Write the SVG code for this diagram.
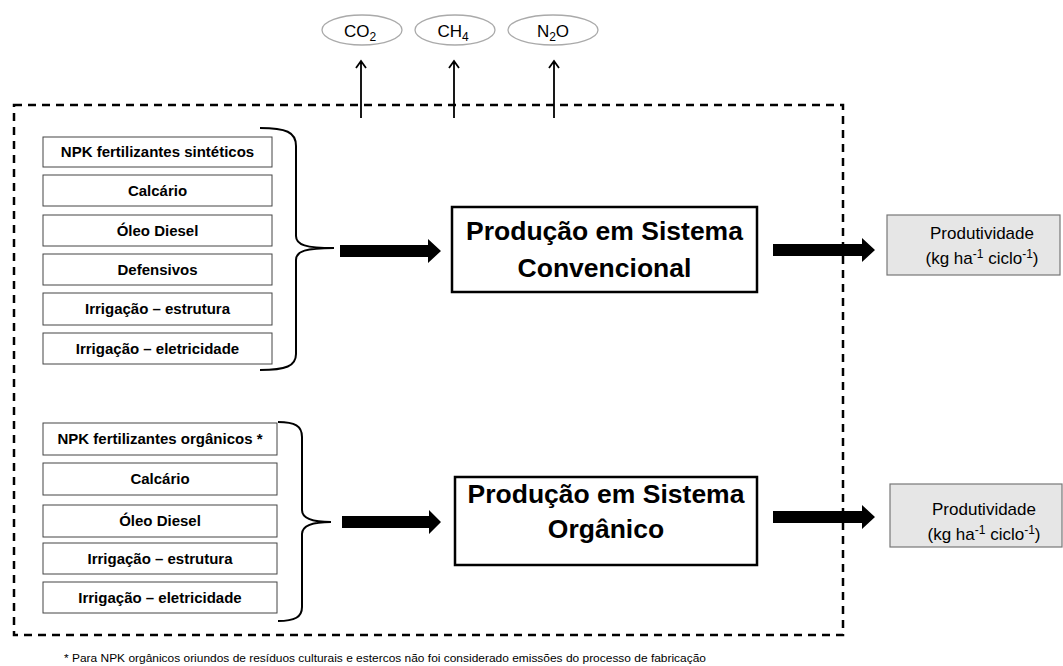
<svg xmlns="http://www.w3.org/2000/svg" width="1063" height="666" viewBox="0 0 1063 666">
<defs>
<style>
.inp rect{fill:#fff;stroke:#444;stroke-width:1}
.inp text{font-family:"Liberation Sans",Arial,sans-serif;font-weight:bold;font-size:15px;text-anchor:middle;fill:#000}
.gas ellipse{fill:#fff;stroke:#aaa;stroke-width:1.3}
.gas text{font-family:"Liberation Sans",Arial,sans-serif;font-size:17px;text-anchor:middle;fill:#000}
.prod rect{fill:#fff;stroke:#000;stroke-width:2.5}
.prod text{font-family:"Liberation Sans",Arial,sans-serif;font-weight:bold;font-size:26.5px;text-anchor:middle;fill:#000}
.out rect{fill:#e6e6e6;stroke:#777;stroke-width:1.2}
.out text{font-family:"Liberation Sans",Arial,sans-serif;font-size:17px;text-anchor:middle;fill:#000}
.brace{fill:none;stroke:#000;stroke-width:2}
.thick{fill:#000}
.up{fill:none;stroke:#000;stroke-width:1.8}
.sub{font-size:12px}
</style>
</defs>
<rect width="1063" height="666" fill="#fff"/>
<rect id="boundary" x="14" y="105" width="829" height="530" fill="none" stroke="#000" stroke-width="2.5" stroke-dasharray="8 6"/>

<g id="gas-co2" class="gas"><ellipse cx="362" cy="30" rx="40" ry="15"/><text x="360" y="37">CO<tspan class="sub" dy="4">2</tspan></text></g>
<g id="gas-ch4" class="gas"><ellipse cx="455" cy="30" rx="40" ry="15"/><text x="453" y="37">CH<tspan class="sub" dy="4">4</tspan></text></g>
<g id="gas-n2o" class="gas"><ellipse cx="553" cy="30" rx="45" ry="15"/><text x="553" y="37">N<tspan class="sub" dy="4">2</tspan><tspan dy="-4">O</tspan></text></g>

<g id="inputs-conv" class="inp">
<g id="in-c1"><rect x="43" y="137" width="229" height="30"/><text x="157.5" y="157">NPK fertilizantes sintéticos</text></g>
<g id="in-c2"><rect x="43" y="175" width="229" height="31"/><text x="157.5" y="196">Calcário</text></g>
<g id="in-c3"><rect x="43" y="215" width="229" height="31"/><text x="157.5" y="236">Óleo Diesel</text></g>
<g id="in-c4"><rect x="43" y="254" width="229" height="31"/><text x="157.5" y="275">Defensivos</text></g>
<g id="in-c5"><rect x="43" y="293" width="229" height="32"/><text x="157.5" y="314">Irrigação – estrutura</text></g>
<g id="in-c6"><rect x="43" y="333" width="229" height="31"/><text x="157.5" y="354">Irrigação – eletricidade</text></g>
</g>

<g id="inputs-org" class="inp">
<g id="in-o1"><rect x="43" y="423" width="234" height="32"/><text x="160" y="444">NPK fertilizantes orgânicos *</text></g>
<g id="in-o2"><rect x="43" y="463" width="234" height="32"/><text x="160" y="484">Calcário</text></g>
<g id="in-o3"><rect x="43" y="505" width="234" height="32"/><text x="160" y="526">Óleo Diesel</text></g>
<g id="in-o4"><rect x="43" y="543" width="234" height="31"/><text x="160" y="564">Irrigação – estrutura</text></g>
<g id="in-o5"><rect x="43" y="582" width="234" height="31"/><text x="160" y="603">Irrigação – eletricidade</text></g>
</g>

<g id="prod-conv" class="prod"><rect x="452" y="207" width="305" height="85"/><text x="604.5" y="240">Produção em Sistema</text><text x="604.5" y="277">Convencional</text></g>
<g id="prod-org" class="prod"><rect x="455" y="477" width="302" height="88"/><text x="606" y="503">Produção em Sistema</text><text x="606" y="538">Orgânico</text></g>

<g id="out-conv" class="out"><rect x="887" y="215" width="173" height="60"/><text x="982" y="239">Produtividade</text><text x="982" y="264">(kg ha<tspan class="sub" dy="-6">-1</tspan><tspan dy="6"> ciclo</tspan><tspan class="sub" dy="-6">-1</tspan><tspan dy="6">)</tspan></text></g>
<g id="out-org" class="out"><rect x="890" y="484" width="172" height="63"/><text x="984" y="515">Produtividade</text><text x="984" y="540">(kg ha<tspan class="sub" dy="-6">-1</tspan><tspan dy="6"> ciclo</tspan><tspan class="sub" dy="-6">-1</tspan><tspan dy="6">)</tspan></text></g>

<g id="connectors">
<path class="brace" d="M260,128 C286,128 296,132 296,146 L296,236 C296,245 306,248 334,248 C306,248 296,251 296,260 L296,354 C296,366 286,370 260,370"/>
<path class="brace" d="M278,422 C295,422 302,426 302,437 L302,510 C302,518 311,522 331,522 C311,522 302,526 302,534 L302,607 C302,617 295,621 278,621"/>
<polygon class="thick" points="340,245 428,245 428,239 441,251 428,263 428,257 340,257"/>
<polygon class="thick" points="342,516 429,516 429,510 441,522 429,534 429,528 342,528"/>
<polygon class="thick" points="773,244 862,244 862,238 875,250 862,262 862,256 773,256"/>
<polygon class="thick" points="773,511 862,511 862,505 875,517 862,529 862,523 773,523"/>
<path class="up" d="M361,118 V61 M356,68 L361,61 L366,68"/>
<path class="up" d="M454,118 V61 M449,68 L454,61 L459,68" stroke="#333"/>
<path class="up" d="M554,118 V61 M549,68 L554,61 L559,68"/>
</g>

<text id="footnote" x="64" y="662" font-family="Liberation Sans,Arial,sans-serif" font-size="11.5" textLength="642" lengthAdjust="spacingAndGlyphs">* Para  NPK orgânicos oriundos de resíduos culturais e estercos não foi considerado emissões do processo de fabricação</text>
</svg>
